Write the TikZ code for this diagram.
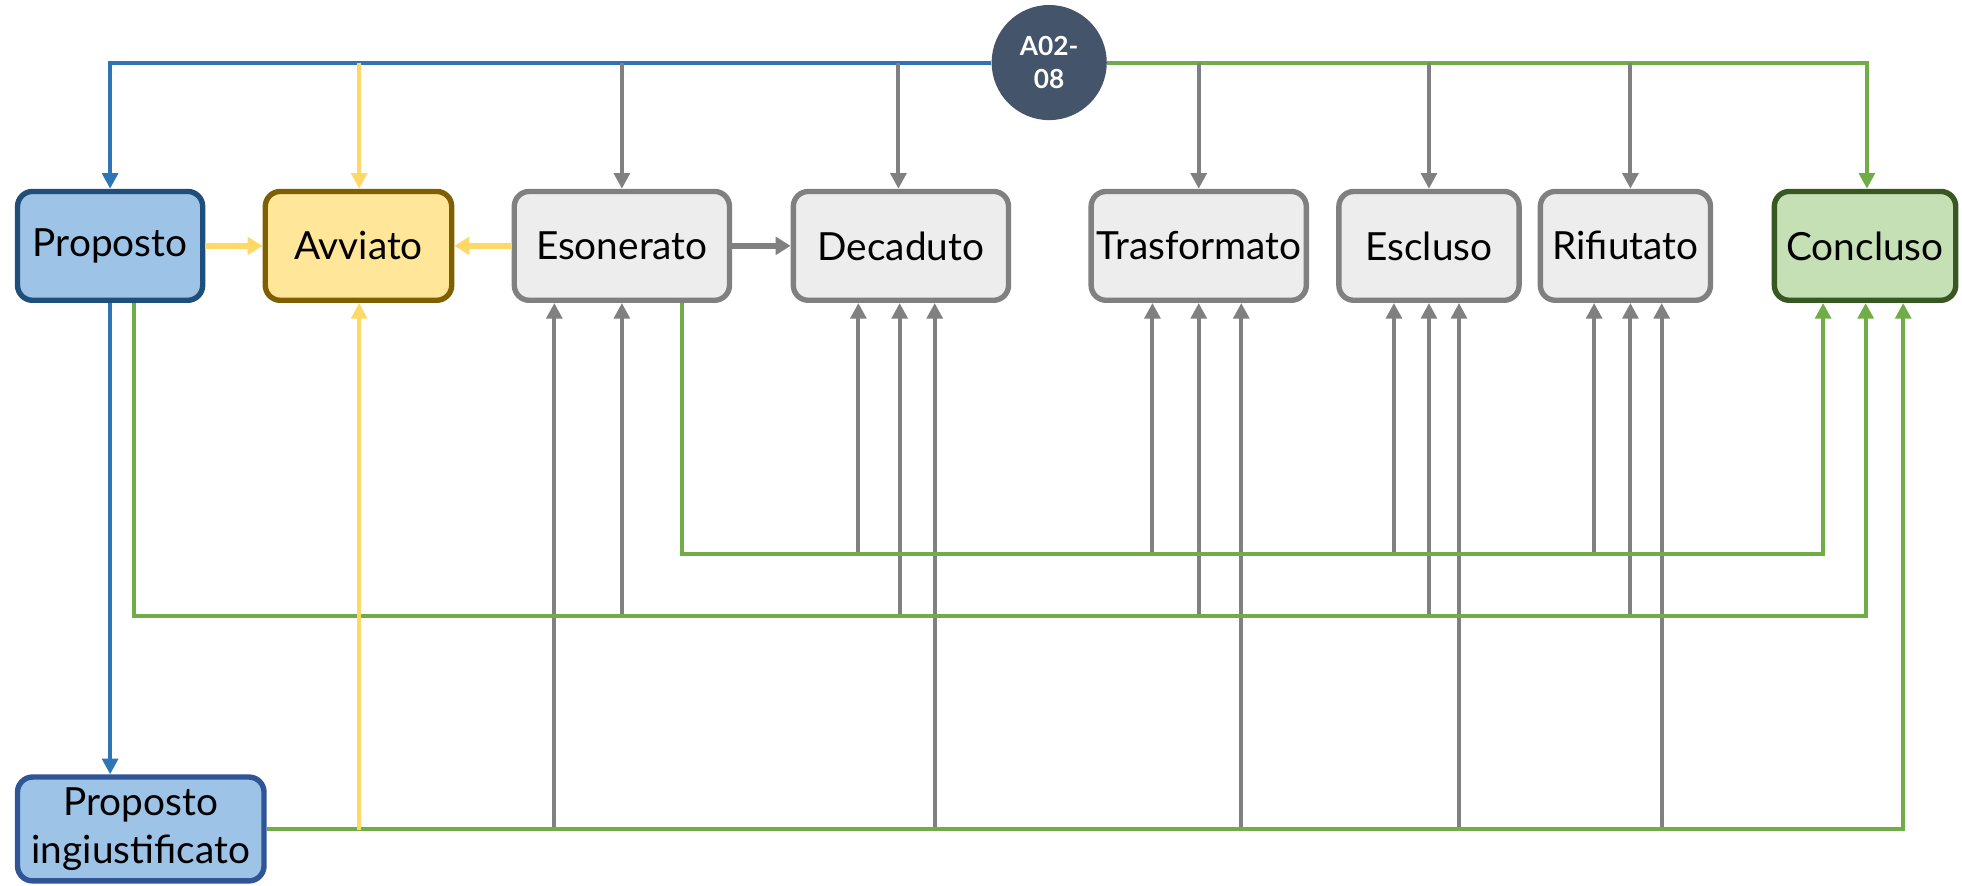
\documentclass[tikz,border=0pt]{standalone}
\usepackage{fontspec}
\setmainfont{Lato}
\usetikzlibrary{arrows.meta}
\definecolor{blueln}{HTML}{2E75B6}
\definecolor{bluefill}{HTML}{9DC3E6}
\definecolor{blueborder}{HTML}{1F4E79}
\definecolor{blueborderb}{HTML}{2F5597}
\definecolor{yellowln}{HTML}{FFD966}
\definecolor{yellowfill}{HTML}{FFE699}
\definecolor{yellowborder}{HTML}{7F6000}
\definecolor{grayln}{HTML}{808080}
\definecolor{grayfill}{HTML}{EDEDED}
\definecolor{greenln}{HTML}{70AD47}
\definecolor{greenfill}{HTML}{C5E0B4}
\definecolor{greenborder}{HTML}{385723}
\definecolor{slate}{HTML}{44546A}
\tikzset{
  stbox/.style={rectangle, rounded corners=12pt, line width=4.3pt, minimum height=87pt, inner sep=0pt, font=\fontsize{31}{38}\selectfont, align=center},
  graybox/.style={stbox, draw=grayln, fill=grayfill},
  conn/.style={line width=3.2pt, -{Triangle[width=12.5pt,length=12.5pt]}},
  thickconn/.style={line width=5pt, -{Triangle[width=14pt,length=12pt]}},
}
\begin{document}
\begin{tikzpicture}[x=1pt,y=-1pt]
\useasboundingbox (0,0) rectangle (1568,708);
% nodes
\node[stbox, draw=blueborder, fill=bluefill, minimum width=148pt] (P) at (88,196.5) {Proposto};
\node[stbox, draw=yellowborder, fill=yellowfill, minimum width=149pt] (Av) at (286.5,196.5) {Avviato};
\node[graybox, minimum width=172pt] (Es) at (497,196.5) {Esonerato};
\node[graybox, minimum width=172pt] (De) at (720,196.5) {Decaduto};
\node[graybox, minimum width=172pt] (Tr) at (958,196.5) {Trasformato};
\node[graybox, minimum width=144pt] (Ec) at (1142,196.5) {Escluso};
\node[graybox, minimum width=136pt] (Ri) at (1299,196.5) {Rifiutato};
\node[stbox, draw=greenborder, fill=greenfill, minimum width=145pt] (Co) at (1490.5,196.5) {Concluso};
\node[stbox, draw=blueborderb, fill=bluefill, minimum width=197pt, minimum height=83pt] (PI) at (112.5,662.5) {Proposto\\ingiustificato};
\node[circle, fill=slate, minimum size=92pt, inner sep=0pt, text=white, align=center, font=\fontsize{21}{27}\selectfont\bfseries] (C) at (838.5,50) {A02-\\08};
% bus y levels
\coordinate (yA) at (0,443);
\coordinate (yB) at (0,492);
\coordinate (yC) at (0,663);
% top bus
\draw[conn, blueln] (C.west) -| (P.north);
\draw[conn, greenln] (C.east) -| ([xshift=1.5pt]Co.north);
\draw[conn, yellowln] ([xshift=0.5pt]Av.north |- C) -- ([xshift=0.5pt]Av.north);
\draw[conn, grayln] (Es.north |- C) -- (Es.north);
\draw[conn, grayln] ([xshift=-2pt]De.north |- C) -- ([xshift=-2pt]De.north);
\draw[conn, grayln] (Tr.north |- C) -- (Tr.north);
\draw[conn, grayln] (Ec.north |- C) -- (Ec.north);
\draw[conn, grayln] ([xshift=4pt]Ri.north |- C) -- ([xshift=4pt]Ri.north);
% horizontal short arrows
\draw[thickconn, yellowln] (P.east) -- (Av.west);
\draw[thickconn, yellowln] (Es.west) -- (Av.east);
\draw[thickconn, grayln] (Es.east) -- (De.west);
% gray up arrows
\foreach \n/\dx/\yy in {Es/-54/yC, Es/0/yB,
  De/-34/yA, De/-1/yB, De/27/yC,
  Tr/-37/yA, Tr/0/yB, Tr/34/yC,
  Ec/-28/yA, Ec/0/yB, Ec/24/yC,
  Ri/-25/yA, Ri/4/yB, Ri/29/yC}{
  \draw[conn, grayln] ([xshift=\dx pt]\n.south |- \yy) -- ([xshift=\dx pt]\n.south);
}
% green lines
\draw[conn, greenln] ([xshift=48pt]Es.south) |- ([xshift=-33.5pt]Co.south |- yA) -- ([xshift=-33.5pt]Co.south);
\draw[conn, greenln] ([xshift=19pt]P.south) |- ([xshift=0.5pt]Co.south |- yB) -- ([xshift=0.5pt]Co.south);
\draw[conn, greenln] (PI.east) -| ([xshift=30.5pt]Co.south);
% yellow from PI bus
\draw[conn, yellowln] ([xshift=0.5pt]Av.south |- yC) -- ([xshift=0.5pt]Av.south);
% blue down
\draw[conn, blueln] (P.south) -- (P.south |- PI.north);
\end{tikzpicture}
\end{document}
